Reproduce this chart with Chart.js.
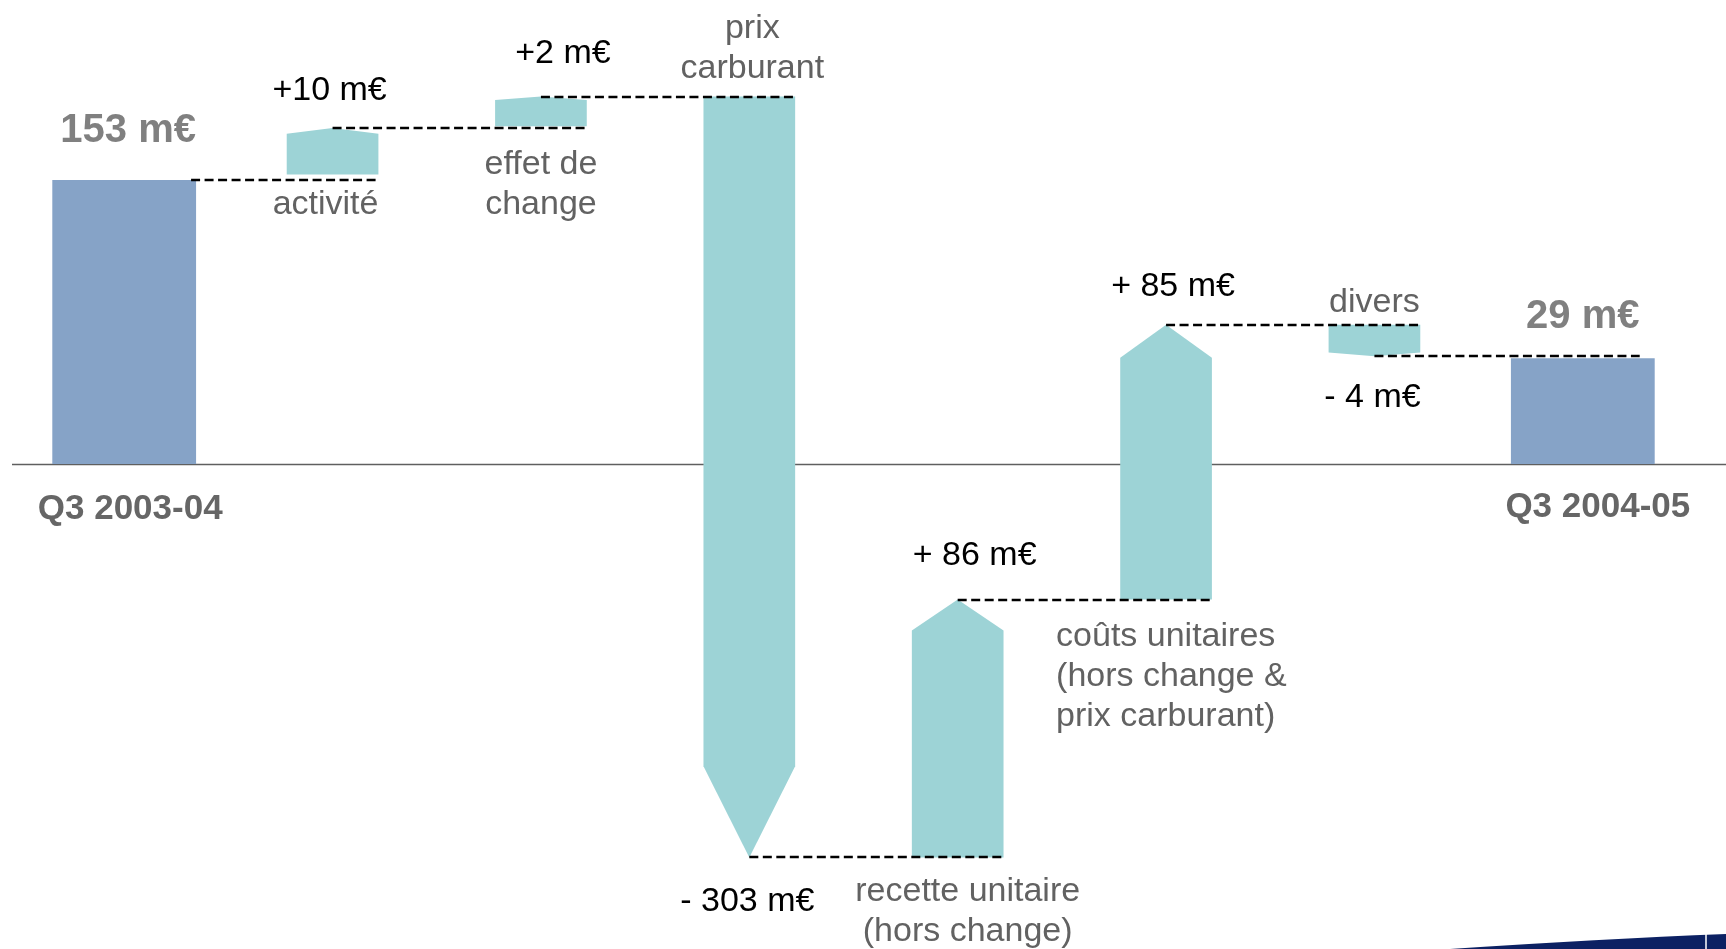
<!DOCTYPE html>
<html>
<head>
<meta charset="utf-8">
<title>Bridge Q3 2003-04 / Q3 2004-05</title>
<script src="https://cdn.jsdelivr.net/npm/chart.js@4.4.0/dist/chart.umd.min.js"></script>
<style>
  html, body { margin: 0; padding: 0; background: #fff; }
  #wrap { position: relative; width: 1726px; height: 949px; }
</style>
</head>
<body>
<div id="wrap"><canvas id="bridge"></canvas></div>
<script>
// categories of the bridge, one entry per bar (lines of the label)
const categories = [
  ['Q3 2003-04'],
  ['activité'],
  ['effet de', 'change'],
  ['prix', 'carburant'],
  ['recette unitaire', '(hors change)'],
  ['coûts unitaires', '(hors change &', 'prix carburant)'],
  ['divers'],
  ['Q3 2004-05']
];
const valueLabels = ['153 m€', '+10 m€', '+2 m€', '- 303 m€', '+ 86 m€', '+ 85 m€', '- 4 m€', '29 m€'];
const isTotal = [true, false, false, false, false, false, false, true];

// the slide does not draw the steps to scale, so the extents below are read
// off the picture itself, in units where the first bar is 153
const barStart = [0, 156, 182, 198, -212, -73, 75, 0];
const barEnd   = [153, 181, 198, -212, -73, 75, 58, 57];

const totalColor = '#86a3c7';
const stepColor = '#9dd3d6';
const FONT = "'Liberation Sans', Arial, sans-serif";

// label placement per bar: dx from bar centre, dy from the start/end level
const place = [
  { val: { dx: 4, ref: 'end', dy: -38 },  cat: { dx: 6, ref: 'start', dy: 55 } },
  { val: { dx: -3, ref: 'end', dy: -28 }, cat: { dx: -7, ref: 'start', dy: 40 } },
  { val: { dx: 22, ref: 'end', dy: -34 }, cat: { dx: 0, ref: 'start', dy: 48 } },
  { val: { dx: -2, ref: 'end', dy: 54 },  cat: { dx: 3, ref: 'start', dy: -19, up: true } },
  { val: { dx: 17, ref: 'end', dy: -35 }, cat: { dx: 10, ref: 'start', dy: 44 } },
  { val: { dx: 7, ref: 'end', dy: -29 },  cat: { dx: -110, ref: 'start', dy: 46, align: 'left' } },
  { val: { dx: -2, ref: 'end', dy: 51 },  cat: { dx: 0, ref: 'start', dy: -13, up: true } },
  { val: { dx: 0, ref: 'end', dy: -30 },  cat: { dx: 15, ref: 'start', dy: 53 } }
];

function drawLines(ctx, lines, x, y, up, lineH) {
  const first = up ? y - (lines.length - 1) * lineH : y;
  lines.forEach((t, k) => ctx.fillText(t, x, first + k * lineH));
}

const bridgePlugin = {
  id: 'bridge',
  beforeDatasetsDraw(chart) {
    const { ctx, scales: { y } } = chart;
    const y0 = Math.round(y.getPixelForValue(0)) + 0.5;
    ctx.save();
    ctx.strokeStyle = '#5f5f5f';
    ctx.lineWidth = 1.6;
    ctx.beginPath();
    ctx.moveTo(12, y0);
    ctx.lineTo(chart.width, y0);
    ctx.stroke();
    ctx.restore();
  },
  afterDatasetsDraw(chart) {
    const { ctx, scales: { y } } = chart;
    const totals = chart.getDatasetMeta(0).data;
    const steps = chart.getDatasetMeta(1).data;
    const bar = i => (isTotal[i] ? totals[i] : steps[i]);

    // step bars as arrows pointing to the new level
    ctx.save();
    ctx.fillStyle = stepColor;
    steps.forEach((el, i) => {
      if (isTotal[i]) return;
      const ys = y.getPixelForValue(barStart[i]);
      const ye = y.getPixelForValue(barEnd[i]);
      const half = el.width / 2;
      const tip = (ye - ys) * 0.12;
      ctx.beginPath();
      ctx.moveTo(el.x - half, ys);
      ctx.lineTo(el.x + half, ys);
      ctx.lineTo(el.x + half, ye - tip);
      ctx.lineTo(el.x, ye);
      ctx.lineTo(el.x - half, ye - tip);
      ctx.closePath();
      ctx.fill();
    });
    ctx.restore();

    // dashed connectors
    ctx.save();
    ctx.strokeStyle = '#000';
    ctx.lineWidth = 2.5;
    ctx.setLineDash([9, 4.5]);
    for (let i = 0; i < categories.length - 1; i++) {
      const a = bar(i), b = bar(i + 1);
      const yy = Math.round(y.getPixelForValue(barEnd[i]));
      const x1 = isTotal[i] ? a.x + a.width / 2 - 5 : a.x;
      const x2 = b.x + b.width / 2 - (isTotal[i + 1] ? 15 : 0);
      ctx.beginPath();
      ctx.moveTo(x1, yy);
      ctx.lineTo(x2, yy);
      ctx.stroke();
    }
    ctx.restore();

    // texts
    ctx.save();
    ctx.textBaseline = 'alphabetic';
    categories.forEach((lines, i) => {
      const el = bar(i);
      const p = place[i];
      const lvl = r => y.getPixelForValue(r === 'end' ? barEnd[i] : barStart[i]);

      ctx.textAlign = 'center';
      if (isTotal[i]) {
        ctx.font = 'bold 40px ' + FONT;
        ctx.fillStyle = '#808080';
      } else {
        ctx.font = '34px ' + FONT;
        ctx.fillStyle = '#000';
      }
      ctx.fillText(valueLabels[i], el.x + p.val.dx, lvl(p.val.ref) + p.val.dy);

      if (isTotal[i]) {
        ctx.font = 'bold 35px ' + FONT;
        ctx.fillStyle = '#666';
      } else {
        ctx.font = '34px ' + FONT;
        ctx.fillStyle = '#626262';
      }
      ctx.textAlign = p.cat.align || 'center';
      drawLines(ctx, lines, el.x + p.cat.dx, lvl(p.cat.ref) + p.cat.dy, p.cat.up, 40);
    });
    ctx.restore();
  },
  afterDraw(chart) {
    // navy slide border in the bottom right corner
    const { ctx, width, height } = chart;
    ctx.save();
    ctx.fillStyle = '#0c2163';
    ctx.beginPath();
    ctx.moveTo(1450, height);
    ctx.quadraticCurveTo(1600, height - 10, width, height - 15);
    ctx.lineTo(width, height);
    ctx.closePath();
    ctx.fill();
    ctx.strokeStyle = '#fff';
    ctx.lineWidth = 1.5;
    ctx.beginPath();
    ctx.moveTo(1706, height - 16);
    ctx.lineTo(1706, height);
    ctx.stroke();
    ctx.restore();
  }
};

new Chart(document.getElementById('bridge'), {
  type: 'bar',
  data: {
    labels: categories,
    datasets: [
      {
        label: 'totaux',
        data: categories.map((c, i) => (isTotal[i] ? [barStart[i], barEnd[i]] : null)),
        backgroundColor: totalColor,
        borderWidth: 0,
        barPercentage: 0.69,
        categoryPercentage: 1,
        grouped: false
      },
      {
        label: 'variations',
        data: categories.map((c, i) => (isTotal[i] ? null : [barStart[i], barEnd[i]])),
        backgroundColor: 'rgba(0,0,0,0)',
        borderWidth: 0,
        barPercentage: 0.44,
        categoryPercentage: 1,
        grouped: false
      }
    ]
  },
  options: {
    responsive: true,
    maintainAspectRatio: false,
    animation: false,
    events: [],
    layout: { padding: { left: 20, right: 39, top: 0, bottom: 0 } },
    plugins: {
      legend: { display: false },
      tooltip: { enabled: false }
    },
    scales: {
      x: { display: false },
      y: { display: false, min: -261.3, max: 250 }
    }
  },
  plugins: [bridgePlugin]
});
</script>
</body>
</html>
